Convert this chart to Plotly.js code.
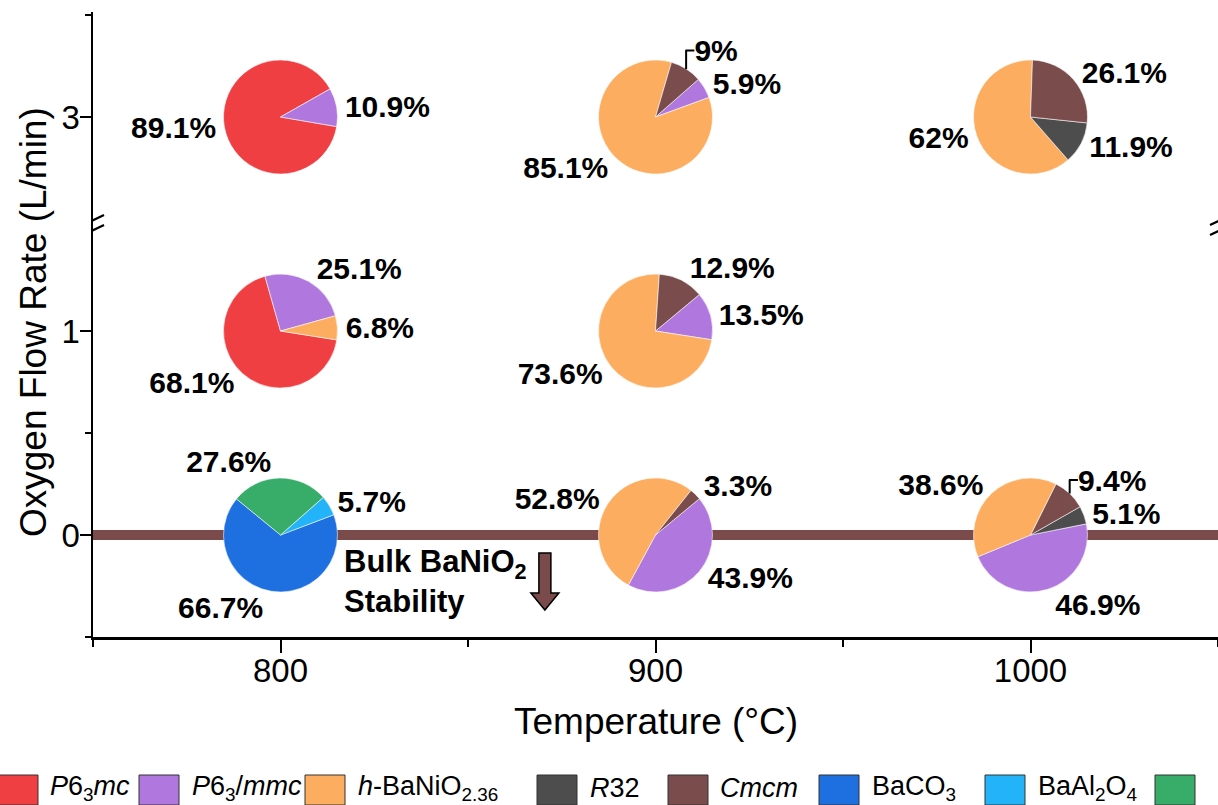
<!DOCTYPE html>
<html>
<head>
<meta charset="utf-8">
<script src="https://cdn.plot.ly/plotly-3.0.1.min.js"></script>
<style>
html,body{margin:0;padding:0;background:#ffffff;}
#chart{width:1218px;height:805px;}
</style>
</head>
<body>
<div id="chart"></div>
<script>
// ---------------- data ----------------
const phaseKeys = ['P63mc', 'P63/mmc', 'h-BaNiO2.36', 'R32', 'Cmcm', 'BaCO3', 'BaAl2O4', 'phase8'];
const phaseLegendText = [
  '<i>P</i>6<sub>3</sub><i>mc</i>',
  '<i>P</i>6<sub>3</sub>/<i>mmc</i>',
  '<i>h</i>-BaNiO<sub>2.36</sub>',
  '<i>R</i>32',
  '<i>Cmcm</i>',
  'BaCO<sub>3</sub>',
  'BaAl<sub>2</sub>O<sub>4</sub>',
  ''
];

const xTickVals = [800, 900, 1000];
const xMinorTickVals = [750, 850, 950, 1050];
const yTickVals = [0, 1, 3];
const yTickText = ['0', '1', '3'];
const yMinorTickVals = [-0.5, 0.5, 3.5];

const pieTemperature = [800, 900, 1000, 800, 900, 800, 900, 1000];
const pieFlowRate    = [3,   3,   3,    1,   1,   0,   0,   0];
const piePhases = [
  ['P63mc', 'P63/mmc'],
  ['P63/mmc', 'h-BaNiO2.36', 'Cmcm'],
  ['h-BaNiO2.36', 'R32', 'Cmcm'],
  ['P63mc', 'P63/mmc', 'h-BaNiO2.36'],
  ['P63/mmc', 'h-BaNiO2.36', 'Cmcm'],
  ['BaCO3', 'BaAl2O4', 'phase8'],
  ['P63/mmc', 'h-BaNiO2.36', 'Cmcm'],
  ['P63/mmc', 'R32', 'Cmcm', 'h-BaNiO2.36']
];
const pieFractions = [
  [89.1, 10.9],
  [5.9, 85.1, 9],
  [62, 11.9, 26.1],
  [68.1, 25.1, 6.8],
  [13.5, 73.6, 12.9],
  [66.7, 5.7, 27.6],
  [43.9, 52.8, 3.3],
  [46.9, 5.1, 9.4, 38.6]
];

const stabilityLineX = [750, 1050];
const stabilityLineY = [0, 0];

// ---------------- style ----------------
const phaseColors = ['#F03F42', '#B078DE', '#FCAD5F', '#4D4D4D', '#7B4C4C', '#1E6FE0', '#22B3F8', '#38AD6A'];
const pieDirection = ['counterclockwise', 'clockwise', 'counterclockwise', 'clockwise', 'clockwise', 'counterclockwise', 'clockwise', 'counterclockwise'];
const pieRotation = [99.7, 48.7, 138.8, 99, 50.3, 69.2, 50.4, 78.7];

const W = 1218, H = 805;
const M = {l: 93, r: 0, t: 12, b: 168};
const plotW = W - M.l - M.r, plotH = H - M.t - M.b;
const PIE_R = 57;
const BROWN = '#7B4B4B';
const FONT = 'Liberation Sans, Arial, Helvetica, sans-serif';

// broken y axis: values above the break are shifted down
const BREAK_SHIFT = 0.951;
function yAxisVal(v) { return v > 2 ? v - BREAK_SHIFT : v; }
const xRange = [750, 1050];
const yRange = [-0.5, -0.5 + plotH / 204];

function colorOf(key) { return phaseColors[phaseKeys.indexOf(key)]; }
function xFrac(v) { return (v - xRange[0]) / (xRange[1] - xRange[0]); }
function yFrac(v) { return (yAxisVal(v) - yRange[0]) / (yRange[1] - yRange[0]); }

const traces = [];
traces.push({
  type: 'scatter', mode: 'lines',
  x: stabilityLineX, y: stabilityLineY,
  line: {color: BROWN, width: 10},
  hoverinfo: 'skip', showlegend: false
});

for (let i = 0; i < pieTemperature.length; i++) {
  const cx = xFrac(pieTemperature[i]);
  const cy = yFrac(pieFlowRate[i]);
  const rx = PIE_R / plotW, ry = PIE_R / plotH;
  traces.push({
    type: 'pie',
    labels: piePhases[i],
    values: pieFractions[i],
    sort: false,
    direction: pieDirection[i],
    rotation: pieRotation[i],
    domain: {x: [cx - rx, cx + rx], y: [cy - ry, cy + ry]},
    marker: {colors: piePhases[i].map(colorOf), line: {color: 'rgba(255,255,255,0.8)', width: 0.7}},
    textinfo: 'percent',
    textposition: 'outside',
    outsidetextfont: {family: FONT, size: 30, color: '#000', weight: 'bold'},
    showlegend: false,
    hoverinfo: 'label+percent'
  });
}

// ---------------- shapes & annotations ----------------
const shapes = [];
const annotations = [];
function px2xp(px) { return (px - M.l) / plotW; }
function py2yp(py) { return (M.t + plotH - py) / plotH; }

// axis break marks
[[xRange[0], -10, 11], [xRange[1], -8, 14]].forEach(function (b) {
  [-5, 5].forEach(function (dy) {
    shapes.push({
      type: 'line', xref: 'x', yref: 'y',
      xsizemode: 'pixel', ysizemode: 'pixel',
      xanchor: b[0], yanchor: 1.52,
      x0: b[1], x1: b[2], y0: dy - 5, y1: dy + 5,
      line: {color: '#000', width: 2.2}
    });
  });
});

// down arrow
shapes.push({
  type: 'path', xref: 'x', yref: 'y',
  xsizemode: 'pixel', ysizemode: 'pixel',
  xanchor: 870.5, yanchor: 0,
  path: 'M -6,-18 L 6,-18 L 6,-58 L 14,-58 L 0,-75 L -14,-58 L -6,-58 Z',
  fillcolor: BROWN, line: {color: '#000', width: 1.5}
});

annotations.push({
  xref: 'x', yref: 'y', x: 816.5, y: -0.23,
  xanchor: 'left', yanchor: 'middle', align: 'left', showarrow: false,
  text: 'Bulk BaNiO<sub>2</sub><br>Stability',
  font: {family: FONT, size: 31, color: '#000', weight: 'bold'}
});

// axis titles
annotations.push({
  xref: 'paper', yref: 'paper', x: px2xp(33), y: py2yp(322),
  xanchor: 'center', yanchor: 'middle', showarrow: false, textangle: -90,
  text: 'Oxygen Flow Rate (L/min)',
  font: {family: FONT, size: 37, color: '#000'}
});
annotations.push({
  xref: 'paper', yref: 'paper', x: 0.5, y: py2yp(721),
  xanchor: 'center', yanchor: 'middle', showarrow: false,
  text: 'Temperature (°C)',
  font: {family: FONT, size: 37, color: '#000'}
});

// manual legend
const legendSwatchLeft = [-2, 139, 305, 537, 668, 819, 985, 1155];
const legendTextLeft   = [48, 190, 356, 588, 718, 870, 1036, 1230];
const legendTop = 775, legendBottom = 805, swatchW = 40;
for (let i = 0; i < phaseKeys.length; i++) {
  shapes.push({
    type: 'rect', xref: 'paper', yref: 'paper',
    x0: px2xp(legendSwatchLeft[i]), x1: px2xp(legendSwatchLeft[i] + swatchW),
    y0: py2yp(legendBottom), y1: py2yp(legendTop),
    fillcolor: phaseColors[i], line: {color: '#333', width: 1}
  });
  if (phaseLegendText[i]) {
    annotations.push({
      xref: 'paper', yref: 'paper',
      x: px2xp(legendTextLeft[i]), y: py2yp(788),
      xanchor: 'left', yanchor: 'middle', showarrow: false,
      text: phaseLegendText[i],
      font: {family: FONT, size: 27, color: '#000'}
    });
  }
}

const layout = {
  width: W, height: H,
  margin: M,
  paper_bgcolor: '#fff', plot_bgcolor: '#fff',
  showlegend: false,
  font: {family: FONT, color: '#000'},
  xaxis: {
    range: xRange,
    showline: true, linecolor: '#000', linewidth: 2.5,
    showgrid: false, zeroline: false,
    tickmode: 'array', tickvals: xTickVals,
    ticks: 'outside', ticklen: 13, tickwidth: 2, tickcolor: '#000',
    minor: {tickmode: 'array', tickvals: xMinorTickVals, ticks: 'outside', ticklen: 7, tickwidth: 2, tickcolor: '#000'},
    tickfont: {family: FONT, size: 33, color: '#000'},
    ticklabelstandoff: -10,
    fixedrange: true
  },
  yaxis: {
    range: yRange,
    showline: true, linecolor: '#000', linewidth: 2.5,
    showgrid: false, zeroline: false,
    tickmode: 'array', tickvals: yTickVals.map(yAxisVal), ticktext: yTickText,
    ticks: 'outside', ticklen: 11, tickwidth: 2, tickcolor: '#000',
    minor: {tickmode: 'array', tickvals: yMinorTickVals.map(yAxisVal), ticks: 'outside', ticklen: 6, tickwidth: 2, tickcolor: '#000'},
    tickfont: {family: FONT, size: 33, color: '#000'},
    ticklabelstandoff: -7,
    fixedrange: true
  },
  shapes: shapes,
  annotations: annotations
};

Plotly.newPlot('chart', traces, layout, {displayModeBar: false, staticPlot: true});
</script>
</body>
</html>
